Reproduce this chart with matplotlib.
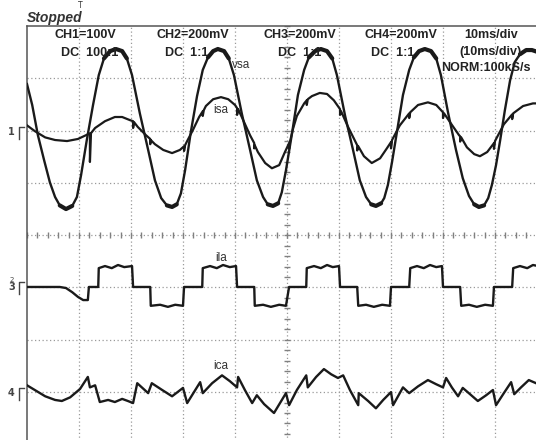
import numpy as np
import matplotlib.pyplot as plt

# time in ms (10 ms/div), trace values in screen divisions above each channel's ground marker
vsa_t = [0.0, 1.0, 2.1, 3.3, 4.4, 5.4, 6.3, 7.5, 8.7, 9.6, 10.4, 11.5, 12.7, 13.8, 14.8, 16.0,
         17.1, 18.3, 19.2, 20.2, 21.7, 23.3, 24.6, 25.8, 26.9, 27.9, 28.8, 29.6, 30.4, 31.5,
         32.7, 33.8, 34.8, 35.8, 36.7, 37.9, 38.8, 39.8, 41.3, 42.9, 44.2, 45.4, 46.3, 47.3,
         48.3, 49.0, 49.8, 51.0, 52.1, 53.3, 54.2, 55.4, 56.5, 57.7, 58.7, 59.6, 61.2, 62.7,
         64.0, 65.2, 66.2, 67.1, 68.1, 68.7, 69.4, 70.2, 71.2, 72.3, 73.5, 74.4, 75.4, 76.5,
         77.7, 78.7, 79.6, 81.0, 82.5, 83.8, 85.0, 86.0, 86.9, 87.9, 88.7, 89.4, 90.2, 91.0,
         91.9, 92.9, 93.8, 94.8, 96.0, 97.1, 98.3]
vsa_v = [0.92, 0.52, -0.06, -0.54, -0.96, -1.24, -1.40, -1.47, -1.41, -1.24, -0.82, -0.15,
         0.52, 1.09, 1.41, 1.55, 1.59, 1.55, 1.41, 1.09, 0.36, -0.34, -0.92, -1.26, -1.40,
         -1.43, -1.38, -1.17, -0.73, 0.00, 0.69, 1.19, 1.43, 1.55, 1.59, 1.55, 1.41, 1.09,
         0.36, -0.34, -0.92, -1.24, -1.38, -1.41, -1.36, -1.15, -0.73, 0.00, 0.71, 1.19,
         1.43, 1.55, 1.59, 1.55, 1.41, 1.09, 0.30, -0.34, -0.92, -1.24, -1.38, -1.41, -1.36,
         -1.26, -1.01, -0.57, 0.04, 0.71, 1.19, 1.43, 1.55, 1.59, 1.55, 1.41, 1.09, 0.36,
         -0.34, -0.88, -1.22, -1.38, -1.43, -1.40, -1.26, -1.01, -0.63, -0.15, 0.42, 0.99,
         1.34, 1.49, 1.57, 1.57, 1.53]

isa_t = [0.0, 1.5, 3.5, 5.4, 7.7, 9.8, 11.3, 12.1, 12.1, 12.3, 13.1, 15.0, 16.9, 18.3, 19.8,
         20.4, 20.4, 20.6, 21.3, 22.9, 23.7, 23.7, 23.8, 24.6, 26.2, 27.9, 29.4, 30.2, 30.2,
         30.4, 30.8, 31.9, 33.1, 33.8, 33.8, 34.0, 34.4, 35.8, 37.3, 38.7, 40.0, 40.4, 40.4,
         40.6, 41.3, 42.9, 43.7, 43.7, 43.8, 44.4, 45.8, 47.1, 48.5, 49.6, 50.4, 50.4, 50.6,
         51.2, 51.9, 53.3, 53.8, 53.8, 54.0, 54.8, 56.3, 57.7, 59.0, 60.2, 60.2, 60.4, 61.7,
         63.3, 63.5, 63.5, 63.7, 64.8, 66.3, 67.9, 69.2, 70.0, 70.0, 70.2, 71.7, 73.5, 73.5,
         73.7, 75.2, 77.1, 78.7, 80.0, 80.0, 80.2, 81.5, 83.1, 83.3, 83.3, 83.5, 84.6, 86.0,
         87.1, 88.5, 89.8, 89.8, 90.0, 91.7, 93.3, 93.3, 93.5, 95.4, 97.3, 98.3]
isa_v = [0.13, 0.02, -0.10, -0.15, -0.17, -0.13, -0.06, -0.02, -0.57, -0.02, 0.08, 0.21,
         0.29, 0.29, 0.23, 0.21, 0.08, 0.19, 0.10, -0.06, -0.13, -0.23, -0.15, -0.23, -0.34,
         -0.40, -0.34, -0.27, -0.36, -0.25, -0.17, 0.04, 0.29, 0.40, 0.31, 0.42, 0.50, 0.63,
         0.67, 0.63, 0.52, 0.46, 0.33, 0.44, 0.29, -0.06, -0.21, -0.31, -0.25, -0.38, -0.59,
         -0.69, -0.63, -0.38, -0.21, -0.32, -0.17, 0.08, 0.31, 0.55, 0.61, 0.52, 0.63, 0.69,
         0.75, 0.73, 0.61, 0.44, 0.33, 0.40, 0.11, -0.21, -0.25, -0.35, -0.27, -0.46, -0.59,
         -0.50, -0.31, -0.19, -0.31, -0.15, 0.13, 0.36, 0.27, 0.38, 0.52, 0.57, 0.52, 0.38,
         0.27, 0.36, 0.17, -0.06, -0.08, -0.18, -0.10, -0.29, -0.42, -0.46, -0.38, -0.21,
         -0.32, -0.17, 0.15, 0.34, 0.25, 0.36, 0.50, 0.55, 0.55]

ila_t = [0.0, 6.3, 7.5, 8.7, 9.8, 10.8, 11.7, 11.9, 13.7, 13.8, 15.0, 16.3, 17.5, 18.7, 20.2,
         20.4, 23.7, 23.8, 25.6, 27.1, 28.5, 30.0, 30.2, 33.7, 33.8, 35.2, 36.5, 37.7, 39.0,
         40.2, 40.4, 43.7, 43.8, 45.4, 46.9, 48.5, 49.8, 50.4, 53.7, 53.8, 55.2, 56.5, 57.7,
         58.8, 60.0, 60.2, 63.5, 63.7, 65.2, 66.7, 68.3, 69.8, 70.0, 73.5, 73.7, 75.0, 76.3,
         77.5, 78.7, 79.8, 80.0, 83.3, 83.5, 85.0, 86.5, 88.1, 89.6, 89.8, 93.3, 93.5, 94.8,
         96.2, 97.3, 98.3]
ila_v = [0.0, 0.0, -0.02, -0.10, -0.19, -0.25, -0.25, 0.0, 0.0, 0.36, 0.40, 0.36, 0.42, 0.38,
         0.40, 0.0, 0.0, -0.36, -0.34, -0.38, -0.34, -0.36, 0.0, 0.0, 0.36, 0.40, 0.36, 0.42,
         0.38, 0.40, 0.0, 0.0, -0.36, -0.34, -0.38, -0.34, -0.36, 0.0, 0.0, 0.36, 0.40, 0.36,
         0.42, 0.38, 0.40, 0.0, 0.0, -0.36, -0.34, -0.38, -0.34, -0.36, 0.0, 0.0, 0.36, 0.40,
         0.36, 0.42, 0.38, 0.40, 0.0, 0.0, -0.36, -0.34, -0.38, -0.34, -0.36, 0.0, 0.0, 0.36,
         0.40, 0.36, 0.42, 0.40]

ica_t = [0.0, 1.5, 3.5, 5.4, 6.7, 8.3, 10.2, 11.7, 12.1, 13.1, 14.0, 15.6, 16.9, 18.3, 19.4,
         20.4, 21.2, 23.3, 24.0, 26.0, 27.9, 30.0, 30.8, 33.3, 33.8, 35.6, 37.5, 39.0, 40.4,
         40.6, 41.9, 43.3, 44.2, 45.6, 47.5, 49.8, 50.4, 51.9, 53.7, 54.0, 55.6, 57.1, 58.5,
         59.8, 60.8, 62.1, 63.7, 63.8, 65.6, 67.1, 68.5, 70.0, 70.4, 72.3, 73.5, 75.2, 77.1,
         78.7, 80.0, 80.6, 81.7, 82.9, 83.8, 85.2, 86.7, 88.3, 89.6, 90.2, 91.7, 93.1, 93.7,
         95.0, 96.5, 97.9]
ica_v = [0.15, 0.06, -0.06, -0.13, -0.15, -0.08, 0.08, 0.31, 0.11, 0.15, -0.17, -0.13, -0.17,
         -0.11, -0.15, -0.19, 0.19, 0.0, 0.19, 0.06, -0.06, 0.10, -0.19, 0.21, 0.0, 0.19, 0.34,
         0.23, 0.11, 0.31, 0.06, -0.19, -0.04, -0.21, -0.38, 0.0, -0.23, 0.06, 0.34, 0.11, 0.31,
         0.46, 0.36, 0.29, 0.34, 0.06, -0.23, 0.0, -0.15, -0.29, -0.13, 0.02, -0.23, 0.11, 0.0,
         0.13, 0.25, 0.17, 0.11, 0.29, 0.11, -0.06, 0.10, -0.02, -0.15, -0.04, 0.06, -0.23, 0.0,
         0.21, -0.02, 0.11, 0.25, 0.19]

# ground marker positions (divisions from screen centre)
ch_ref = {"1": 1.97, "3": -0.99, "4": -3.02}

channel_labels = ["CH1=100V", "CH2=200mV", "CH3=200mV", "CH4=200mV", "10ms/div"]
coupling_labels = ["DC  100:1", "DC  1:1", "DC  1:1", "DC  1:1", "(10ms/div)"]

W, H = 536, 440
INK = "#1a1a1a"
GRID = "#9a9a9a"


def fx(px):
    return px / W


def fy(py):
    return 1 - py / H


fig = plt.figure(figsize=(W / 100, H / 100), dpi=100)
fig.patch.set_facecolor("white")
ax = fig.add_axes([fx(27), fy(26) - 418.4 / H, 520 / W, 418.4 / H])
ax.set_xlim(0, 100)
ax.set_ylim(-4, 4)
ax.set_xticks([])
ax.set_yticks([])
for side in ("right", "bottom"):
    ax.spines[side].set_visible(False)
for side in ("left", "top"):
    ax.spines[side].set_color("#555555")
    ax.spines[side].set_linewidth(1.1)

# graticule
dots = (0, (1, 2))
for x in range(10, 100, 10):
    ax.axvline(x, color=GRID, lw=0.9, ls=dots, zorder=1)
for y in range(-3, 4):
    ax.axhline(y, color=GRID, lw=0.9, ls=dots, zorder=1)
xt = np.arange(0, 101, 2)
ax.plot(xt, np.zeros_like(xt), ls="none", marker="|", ms=5, mew=1.0, color="#808080", zorder=1)
yt = np.arange(-20, 21) / 5
ax.plot(np.full_like(yt, 50.0), yt, ls="none", marker="_", ms=5, mew=1.0, color="#808080", zorder=1)

# traces
vsa = np.array(vsa_v) + ch_ref["1"]
isa = np.array(isa_v) + ch_ref["1"]
ila = np.array(ila_v) + ch_ref["3"]
ica = np.array(ica_v) + ch_ref["4"]
ax.plot(vsa_t, vsa, color=INK, lw=1.7, zorder=3)
blob = np.where((np.array(vsa_v) > 1.38) | (np.array(vsa_v) < -1.3), vsa, np.nan)
ax.plot(vsa_t, blob, color=INK, lw=3.0, zorder=3, solid_capstyle="round",
        solid_joinstyle="round")
ax.plot(isa_t, isa, color=INK, lw=1.6, zorder=3)
ax.plot(ila_t, ila, color=INK, lw=1.7, zorder=3)
ax.plot(ica_t, ica, color=INK, lw=1.7, zorder=3)

lbl = dict(fontsize=8.5, color="#333333", ha="center", va="center", family="Liberation Sans")
ax.text(41.2, 3.25, "vsa", **lbl)
ax.text(37.3, 2.39, "isa", **lbl)
ax.text(37.3, -0.44, "ila", **lbl)
ax.text(37.3, -2.50, "ica", **lbl)

# header text
head = dict(fontsize=9, color="#222222", fontweight="bold", family="Liberation Sans", va="center")
for label, cx in zip(channel_labels, [85, 193, 300, 401, 491]):
    fig.text(fx(cx), fy(35), label, ha="center", **head)
for label, lx in zip(coupling_labels[:4], [61, 165, 278, 371]):
    fig.text(fx(lx), fy(53), label, ha="left", **head)
fig.text(fx(490), fy(52), coupling_labels[4], ha="center", **head)
fig.text(fx(486), fy(68), "NORM:100kS/s", ha="center", **head)

fig.text(fx(27), fy(18), "Stopped", fontsize=10, fontweight="bold", fontstyle="italic",
         family="Liberation Sans", color="#333333", ha="left", va="center")
fig.text(fx(80), fy(5), "T", fontsize=5.5, color="#333333", ha="center", va="center")

# channel ground markers on the left edge
for name, y0 in [("1", ch_ref["1"]), ("3", ch_ref["3"]), ("4", ch_ref["4"])]:
    ax.text(-3.0, y0, name, fontsize=7, fontweight="bold", color="#444444",
            ha="center", va="center", clip_on=False)
    ax.plot([-1.6, -1.6, -0.6], [y0 - 0.14, y0 + 0.1, y0 + 0.1], color="#444444",
            lw=1.0, clip_on=False)
ax.text(-3.0, ch_ref["3"] + 0.14, "2", fontsize=5, color="#444444", ha="center",
        va="center", clip_on=False)

fig.savefig("out.png", dpi=100)
